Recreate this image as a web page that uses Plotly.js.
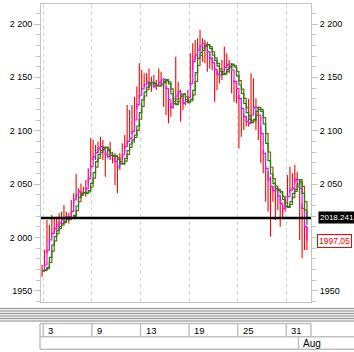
<!DOCTYPE html>
<html>
<head>
<meta charset="utf-8">
<script src="https://cdn.plot.ly/plotly-3.0.1.min.js"></script>
<style>html,body{margin:0;padding:0;background:#fff;}#chart{width:354px;height:352px;}</style>
</head>
<body>
<div id="chart"></div>
<script>
// ---- data ----
const highs = [1974.1,1988.1,2016.3,2011.6,2020.9,2017.8,2019.4,2022.5,2024.1,2030.3,
2024.1,2022.5,2035.0,2041.3,2059.4,2045.9,2050.6,2047.5,2053.8,2064.7,
2092.8,2091.3,2086.6,2089.7,2094.4,2091.3,2083.4,2085.0,2089.7,2080.3,
2078.8,2075.6,2078.8,2088.1,2095.9,2124.1,2119.4,2124.1,2131.9,2141.3,
2163.1,2156.9,2153.8,2153.8,2158.4,2150.6,2152.2,2147.5,2158.4,2155.3,
2149.1,2141.3,2130.3,2125.6,2135.0,2169.4,2145.9,2138.1,2133.4,2135.0,
2138.1,2172.5,2181.9,2185.0,2186.6,2194.4,2186.6,2185.0,2183.4,2174.1,
2169.4,2160.0,2156.9,2156.9,2166.3,2178.8,2172.5,2166.3,2163.1,2147.5,
2141.3,2133.4,2122.5,2116.3,2113.1,2130.0,2153.8,2149.1,2130.3,2116.3,
2103.8,2081.9,2066.3,2061.6,2056.9,2047.5,2049.1,2047.5,2039.7,2030.3,
2038.1,2058.4,2066.3,2060.0,2067.8,2061.6,2047.5,2031.9,2016.3,2010.0];
const lows = [1963.1,1970.9,1985.0,1991.3,2000.6,2003.8,2006.9,2008.4,2013.1,2014.7,
2016.3,2013.1,2019.4,2028.8,2035.0,2038.1,2036.6,2039.7,2038.1,2049.1,
2066.3,2072.5,2072.5,2078.8,2080.3,2072.5,2056.9,2074.1,2072.5,2069.4,
2049.1,2041.3,2063.1,2072.5,2080.3,2086.0,2090.0,2097.0,2106.9,2120.9,
2130.0,2138.1,2141.3,2142.8,2139.7,2136.6,2139.7,2138.1,2142.8,2144.4,
2122.5,2114.7,2106.9,2113.1,2120.9,2128.8,2128.8,2108.4,2119.4,2124.1,
2125.6,2141.3,2156.9,2166.3,2166.3,2174.1,2164.7,2163.1,2155.3,2158.4,
2156.9,2127.2,2138.1,2144.4,2147.5,2156.9,2158.4,2153.8,2135.0,2127.2,
2125.6,2083.4,2094.4,2100.6,2103.8,2104.0,2110.0,2118.0,2100.6,2091.3,
2069.4,2060.0,2033.4,2024.1,2000.6,2033.4,2016.3,2025.6,2010.0,2017.8,
2024.1,2036.0,2042.0,2044.0,2050.6,2047.5,1997.5,1980.3,1988.1,1988.1];
// magenta line
const closeLine = [1969.4,1974.1,1988.1,1997.5,2003.8,2008.4,2011.6,2013.8,2016.3,2018.8,
2019.4,2016.9,2024.1,2035.0,2039.7,2042.8,2040.6,2041.9,2045.9,2055.3,
2066.3,2075.6,2079.4,2083.4,2085.0,2084.1,2078.1,2075.6,2076.9,2075.6,
2070.9,2066.3,2070.9,2077.2,2085.0,2089.7,2092.8,2099.1,2110.0,2124.1,
2133.4,2139.1,2142.8,2145.6,2145.0,2142.8,2141.3,2142.5,2145.0,2147.5,
2148.1,2139.7,2128.8,2121.9,2127.2,2132.5,2136.6,2132.5,2125.6,2127.2,
2131.3,2144.4,2164.7,2170.9,2175.6,2179.4,2181.3,2180.0,2174.1,2167.8,
2163.8,2157.5,2153.1,2152.2,2155.3,2159.4,2162.2,2162.5,2156.9,2145.9,
2139.7,2130.3,2120.9,2113.1,2108.4,2106.9,2114.7,2121.9,2121.9,2114.7,
2097.5,2078.8,2064.7,2053.8,2047.5,2043.8,2044.4,2038.8,2031.9,2027.2,
2028.8,2038.1,2044.4,2045.9,2054.4,2053.8,2045.9,2027.2,2010.0,1997.05];
// green line
const maFast = [1968.8,1969.4,1971.9,1981.3,1992.8,2000.6,2006.3,2010.0,2012.8,2015.0,
2017.5,2019.1,2018.1,2020.6,2029.4,2037.5,2041.3,2041.9,2041.3,2043.8,
2050.6,2060.6,2070.9,2077.5,2081.3,2084.4,2084.4,2081.3,2076.9,2076.3,
2076.3,2073.1,2068.8,2068.8,2074.1,2081.3,2087.5,2091.3,2095.9,2104.4,
2116.9,2128.8,2136.3,2140.9,2144.4,2145.3,2143.8,2141.9,2141.9,2143.8,
2146.3,2147.8,2143.8,2134.4,2125.3,2124.4,2130.0,2134.4,2134.4,2129.1,
2126.3,2129.4,2137.8,2154.4,2167.8,2173.1,2177.5,2180.3,2180.6,2176.9,
2170.9,2165.6,2160.6,2155.3,2152.5,2153.8,2157.5,2160.6,2162.5,2159.7,
2151.3,2142.8,2135.0,2125.6,2116.9,2110.6,2107.5,2110.6,2118.1,2121.9,
2118.1,2106.3,2088.1,2071.9,2059.4,2050.6,2045.6,2044.1,2041.6,2035.3,
2029.4,2028.1,2033.4,2041.3,2045.0,2050.0,2054.1,2041.3,2025.6,2011.6];
// brown line
const maSlow = [1968.4,1969.1,1970.6,1976.6,1987.0,1996.7,2003.4,2008.1,2011.4,2013.9,
2016.3,2018.3,2018.6,2019.4,2025.0,2033.5,2039.4,2041.6,2041.6,2042.5,
2047.2,2055.6,2065.8,2074.2,2079.4,2082.8,2084.4,2082.8,2079.1,2076.6,
2076.3,2074.7,2070.9,2068.8,2071.4,2077.7,2084.4,2089.4,2093.6,2100.2,
2110.7,2122.8,2132.5,2138.6,2142.7,2144.9,2144.5,2142.8,2141.9,2142.8,
2145.0,2147.0,2145.8,2139.1,2129.9,2124.9,2127.2,2132.2,2134.4,2131.8,
2127.7,2127.8,2133.6,2146.1,2161.1,2170.5,2175.3,2178.9,2180.5,2178.8,
2173.9,2168.3,2163.1,2158.0,2153.9,2153.1,2155.6,2159.1,2161.6,2161.1,
2155.5,2147.0,2138.9,2130.3,2121.3,2113.8,2109.1,2109.1,2114.4,2120.0,
2120.0,2112.2,2097.2,2080.0,2065.7,2055.0,2048.1,2044.9,2042.9,2038.5,
2032.4,2028.8,2030.8,2037.3,2043.1,2047.5,2052.1,2047.7,2033.4,2018.6];

const yTickVals = [1950, 2000, 2050, 2100, 2150, 2200];
const yTickText = ['1950', '2 000', '2 050', '2 100', '2 150', '2 200'];
// right-hand scale: the 2 000 label sits under the last-value box
const yTickValsRight = [1950, 2050, 2100, 2150, 2200];
const yTickTextRight = ['1950', '2 050', '2 100', '2 150', '2 200'];
const dayLabels = ['3', '9', '13', '19', '25', '31'];
const dayFirstBar = [1, 21, 41, 61, 81, 101];
const monthLabel = 'Aug';
const monthFirstBar = 106;
const refLevel = 2018.241;

// ---- build traces ----
const idx = closeLine.map((_, i) => i);
const segX = [], segY = [];
for (let i = 0; i < highs.length; i++) {
  segX.push(i, i, null);
  segY.push(lows[i], highs[i], null);
}
const traces = [
  {x: segX, y: segY, type: 'scatter', mode: 'lines', line: {color: '#ff0000', width: 1.1}, hoverinfo: 'skip'},
  {x: idx, y: closeLine, type: 'scatter', mode: 'lines', line: {color: '#ff00ff', width: 1.2, shape: 'hv'}, hoverinfo: 'skip'},
  {x: idx, y: maSlow, type: 'scatter', mode: 'lines', line: {color: '#8f5a12', width: 1.2, shape: 'hv'}, hoverinfo: 'skip'},
  {x: idx, y: maFast, type: 'scatter', mode: 'lines', line: {color: '#0a8a0a', width: 1.2, shape: 'hv'}, hoverinfo: 'skip'},
  {x: idx, y: closeLine, yaxis: 'y2', type: 'scatter', mode: 'lines', line: {width: 0, color: 'rgba(0,0,0,0)'}, hoverinfo: 'skip'}
];

// ---- layout helpers (pixel -> paper) ----
const L = 41, R = 43, T = 4, B = 2, W = 354, H = 352;
const pw = W - L - R, ph = H - T - B;
const pxX = px => (px - L) / pw;
const pxY = py => (H - B - py) / ph;
const yRange = [1939.4, 2218.75];
const xRange = [-0.45, 110.67];
const axisGray = '#c4c4c4';
const boxGray = '#c0c0c0';

const shapes = [];
shapes.push({type: 'line', xref: 'paper', yref: 'y', x0: 0, x1: 1, y0: refLevel, y1: refLevel,
  line: {color: '#000', width: 2.5}});
shapes.push({type: 'rect', xref: 'paper', yref: 'paper', x0: pxX(0), x1: pxX(W), y0: pxY(322), y1: pxY(307.5),
  fillcolor: '#e8e8e8', line: {width: 0}});
[308.5, 311, 313.5, 316, 318.5, 321].forEach(py => shapes.push({type: 'line', xref: 'paper', yref: 'paper',
  x0: pxX(0), x1: pxX(W), y0: pxY(py), y1: pxY(py), line: {color: '#9a9a9a', width: 1.1}}));
const hl = (x0, x1, py) => ({type: 'line', xref: 'paper', yref: 'paper', x0: pxX(x0), x1: pxX(x1), y0: pxY(py), y1: pxY(py), line: {color: boxGray, width: 1.5}});
const vlPx = (px, p0, p1) => ({type: 'line', xref: 'paper', yref: 'paper', x0: pxX(px), x1: pxX(px), y0: pxY(p0), y1: pxY(p1), line: {color: boxGray, width: 1.5}});
shapes.push(hl(40, 311, 323.5));
shapes.push(hl(40, W, 336.7));
shapes.push(hl(40, W, 349.3));
shapes.push(vlPx(40, 323.5, 349.3));
shapes.push(vlPx(311, 323.5, 336.7));
dayFirstBar.forEach(b => shapes.push({type: 'line', xref: 'x', yref: 'paper', x0: b - 0.5, x1: b - 0.5,
  y0: pxY(323.5), y1: pxY(336.7), line: {color: boxGray, width: 1.5}}));
shapes.push({type: 'line', xref: 'x', yref: 'paper', x0: monthFirstBar - 0.5, x1: monthFirstBar - 0.5,
  y0: pxY(336.7), y1: pxY(349.3), line: {color: boxGray, width: 1.5}});

const annotations = [];
dayLabels.forEach((t, k) => annotations.push({xref: 'x', yref: 'paper', x: dayFirstBar[k] - 0.5, y: pxY(330),
  xanchor: 'left', yanchor: 'middle', xshift: 3, text: t, showarrow: false, font: {size: 9.5, color: '#000'}}));
annotations.push({xref: 'x', yref: 'paper', x: monthFirstBar - 0.5, y: pxY(343), xanchor: 'left', yanchor: 'middle',
  xshift: 3, text: monthLabel, showarrow: false, font: {size: 10, color: '#000'}});
annotations.push({xref: 'paper', yref: 'y', x: pxX(318), y: refLevel, xanchor: 'left', yanchor: 'middle',
  text: refLevel.toFixed(3), showarrow: false, bgcolor: '#000', borderpad: 1, font: {size: 8, color: '#fff'}});
const last = closeLine[closeLine.length - 1];
annotations.push({xref: 'paper', yref: 'y', x: pxX(317), y: last, xanchor: 'left', yanchor: 'middle',
  text: last.toFixed(2).replace('.', ','), showarrow: false, bgcolor: '#fff', bordercolor: '#ff0000',
  borderwidth: 1, borderpad: 1, font: {size: 8.5, color: '#ff0000'}});

const yCommon = {
  range: yRange, ticks: 'outside', ticklen: 6, tickwidth: 1,
  tickcolor: axisGray, showline: true, linecolor: axisGray, linewidth: 1, showgrid: false, zeroline: false,
  minor: {dtick: 10, tick0: 0, ticks: 'outside', ticklen: 4, tickwidth: 1, tickcolor: axisGray, showgrid: false},
  tickfont: {size: 9, color: '#000'}, fixedrange: true
};

const layout = {
  width: W, height: H, margin: {l: L, r: R, t: T, b: B}, showlegend: false,
  paper_bgcolor: '#fff', plot_bgcolor: '#fff',
  font: {family: 'Liberation Sans, Arial, sans-serif', size: 9, color: '#000'},
  xaxis: {range: xRange, domain: [0, 1], anchor: 'y', tickvals: dayFirstBar.map(b => b - 0.5),
    showticklabels: false, ticks: '', showgrid: true, gridcolor: '#d8d8d8', griddash: '4px,3px', gridwidth: 1,
    showline: true, mirror: true, linecolor: axisGray, linewidth: 1, zeroline: false, fixedrange: true},
  yaxis: Object.assign({}, yCommon, {domain: [pxY(302), 1], side: 'left', anchor: 'x',
    tickvals: yTickVals, ticktext: yTickText}),
  yaxis2: Object.assign({}, yCommon, {overlaying: 'y', side: 'right', anchor: 'x',
    tickvals: yTickValsRight, ticktext: yTickTextRight,
    minor: Object.assign({}, yCommon.minor)}),
  shapes: shapes, annotations: annotations
};

Plotly.newPlot('chart', traces, layout, {staticPlot: true, displayModeBar: false});
</script>
</body>
</html>
